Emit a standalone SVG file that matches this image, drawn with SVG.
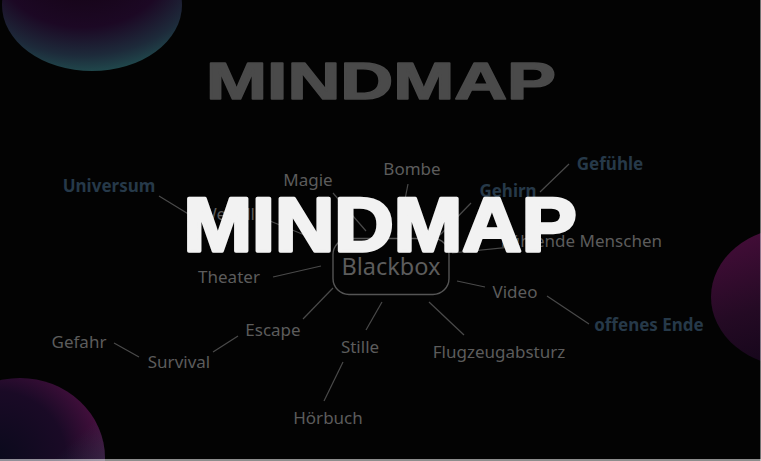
<svg xmlns="http://www.w3.org/2000/svg" width="761" height="461" viewBox="0 0 761 461">
<defs>
<radialGradient id="gTL" cx="0.45" cy="0.2" r="0.85">
<stop offset="0" stop-color="#120210"/>
<stop offset="0.55" stop-color="#1c0824"/>
<stop offset="0.8" stop-color="#1d2a3a"/>
<stop offset="1" stop-color="#215252"/>
</radialGradient>
<radialGradient id="gBL" cx="0.35" cy="0.5" r="0.7">
<stop offset="0" stop-color="#0a0a1c"/>
<stop offset="0.6" stop-color="#1a0a26"/>
<stop offset="1" stop-color="#4e1042"/>
</radialGradient>
<linearGradient id="gBL2" x1="0" y1="0" x2="1" y2="1">
<stop offset="0.6" stop-color="#1d4a4f" stop-opacity="0"/>
<stop offset="1" stop-color="#1d4a4f" stop-opacity="0.9"/>
</linearGradient>
<linearGradient id="gR" x1="0" y1="0" x2="0.4" y2="1">
<stop offset="0" stop-color="#4a0d3c"/>
<stop offset="0.6" stop-color="#240a24"/>
<stop offset="1" stop-color="#14061a"/>
</linearGradient>
<style>
.lbl{font-family:"Noto Sans","Open Sans",sans-serif;font-size:17px;fill:#5c5c5c;text-anchor:middle}
.bold{font-weight:bold;fill:#263949}
.ln{stroke:#4a4a4a;stroke-width:1.2;fill:none}
</style>
</defs>
<rect width="761" height="461" fill="#030303"/>
<ellipse cx="92" cy="5" rx="90" ry="66" fill="url(#gTL)"/>
<ellipse cx="20" cy="458" rx="85" ry="80" fill="url(#gBL)"/>
<ellipse cx="20" cy="458" rx="85" ry="80" fill="url(#gBL2)"/>
<ellipse cx="795" cy="297" rx="84" ry="70" fill="url(#gR)"/>
<text x="381" y="99" font-family="Liberation Sans, Arial, sans-serif" font-weight="bold" font-size="51" fill="#4a4a4a" stroke="#4a4a4a" stroke-width="1.6" stroke-linejoin="round" text-anchor="middle" textLength="350" lengthAdjust="spacingAndGlyphs">MINDMAP</text>
<g id="connectors">
<line class="ln" x1="159" y1="196" x2="190" y2="215"/>
<line class="ln" x1="270" y1="221" x2="312" y2="238"/>
<line class="ln" x1="333" y1="193" x2="366" y2="231"/>
<line class="ln" x1="408" y1="184" x2="398" y2="235"/>
<line class="ln" x1="471" y1="203" x2="440" y2="235"/>
<line class="ln" x1="540" y1="192" x2="569" y2="164"/>
<line class="ln" x1="452" y1="253" x2="520" y2="246"/>
<line class="ln" x1="273" y1="277" x2="321" y2="266"/>
<line class="ln" x1="457" y1="281" x2="485" y2="287"/>
<line class="ln" x1="547" y1="296" x2="589" y2="324"/>
<line class="ln" x1="303" y1="319" x2="333" y2="288"/>
<line class="ln" x1="213" y1="352" x2="238" y2="336"/>
<line class="ln" x1="114" y1="343" x2="139" y2="357"/>
<line class="ln" x1="366" y1="330" x2="382" y2="302"/>
<line class="ln" x1="343" y1="362" x2="324" y2="401"/>
<line class="ln" x1="429" y1="302" x2="464" y2="335"/>
</g>
<g id="blackbox">
<rect x="333" y="238.5" width="116" height="56" rx="16" fill="none" stroke="#555" stroke-width="1.4"/>
<text class="lbl" x="391" y="275" style="font-size:23.5px">Blackbox</text>
</g>
<g id="magie"><text class="lbl" x="308" y="186">Magie</text></g>
<g id="bombe"><text class="lbl" x="412" y="175">Bombe</text></g>
<g id="gehirn"><text class="lbl bold" x="508" y="197">Gehirn</text></g>
<g id="gefuehle"><text class="lbl bold" x="610" y="170">Gefühle</text></g>
<g id="universum"><text class="lbl bold" x="109" y="192">Universum</text></g>
<g id="weltall"><text class="lbl" x="228" y="220">Weltall</text></g>
<g id="menschen"><text class="lbl" x="662" y="247" style="text-anchor:end">Fühlende Menschen</text></g>
<g id="theater"><text class="lbl" x="229" y="283">Theater</text></g>
<g id="video"><text class="lbl" x="515" y="298">Video</text></g>
<g id="offenes-ende"><text class="lbl bold" x="649" y="331">offenes Ende</text></g>
<g id="escape"><text class="lbl" x="273" y="336">Escape</text></g>
<g id="survival"><text class="lbl" x="179" y="368">Survival</text></g>
<g id="gefahr"><text class="lbl" x="79" y="348">Gefahr</text></g>
<g id="stille"><text class="lbl" x="360" y="353">Stille</text></g>
<g id="hoerbuch"><text class="lbl" x="328" y="424">Hörbuch</text></g>
<g id="flugzeugabsturz"><text class="lbl" x="499" y="358">Flugzeugabsturz</text></g>
<text x="380" y="251" font-family="Liberation Sans, Arial, sans-serif" font-weight="bold" font-size="76" fill="#f2f2f2" stroke="#f2f2f2" stroke-width="3.5" stroke-linejoin="round" text-anchor="middle" textLength="393" lengthAdjust="spacingAndGlyphs">MINDMAP</text>
<rect x="760" y="0" width="1" height="461" fill="#ffffff" opacity="0.45"/>
<rect x="0" y="459" width="761" height="2" fill="#ffffff" opacity="0.55"/>
</svg>
